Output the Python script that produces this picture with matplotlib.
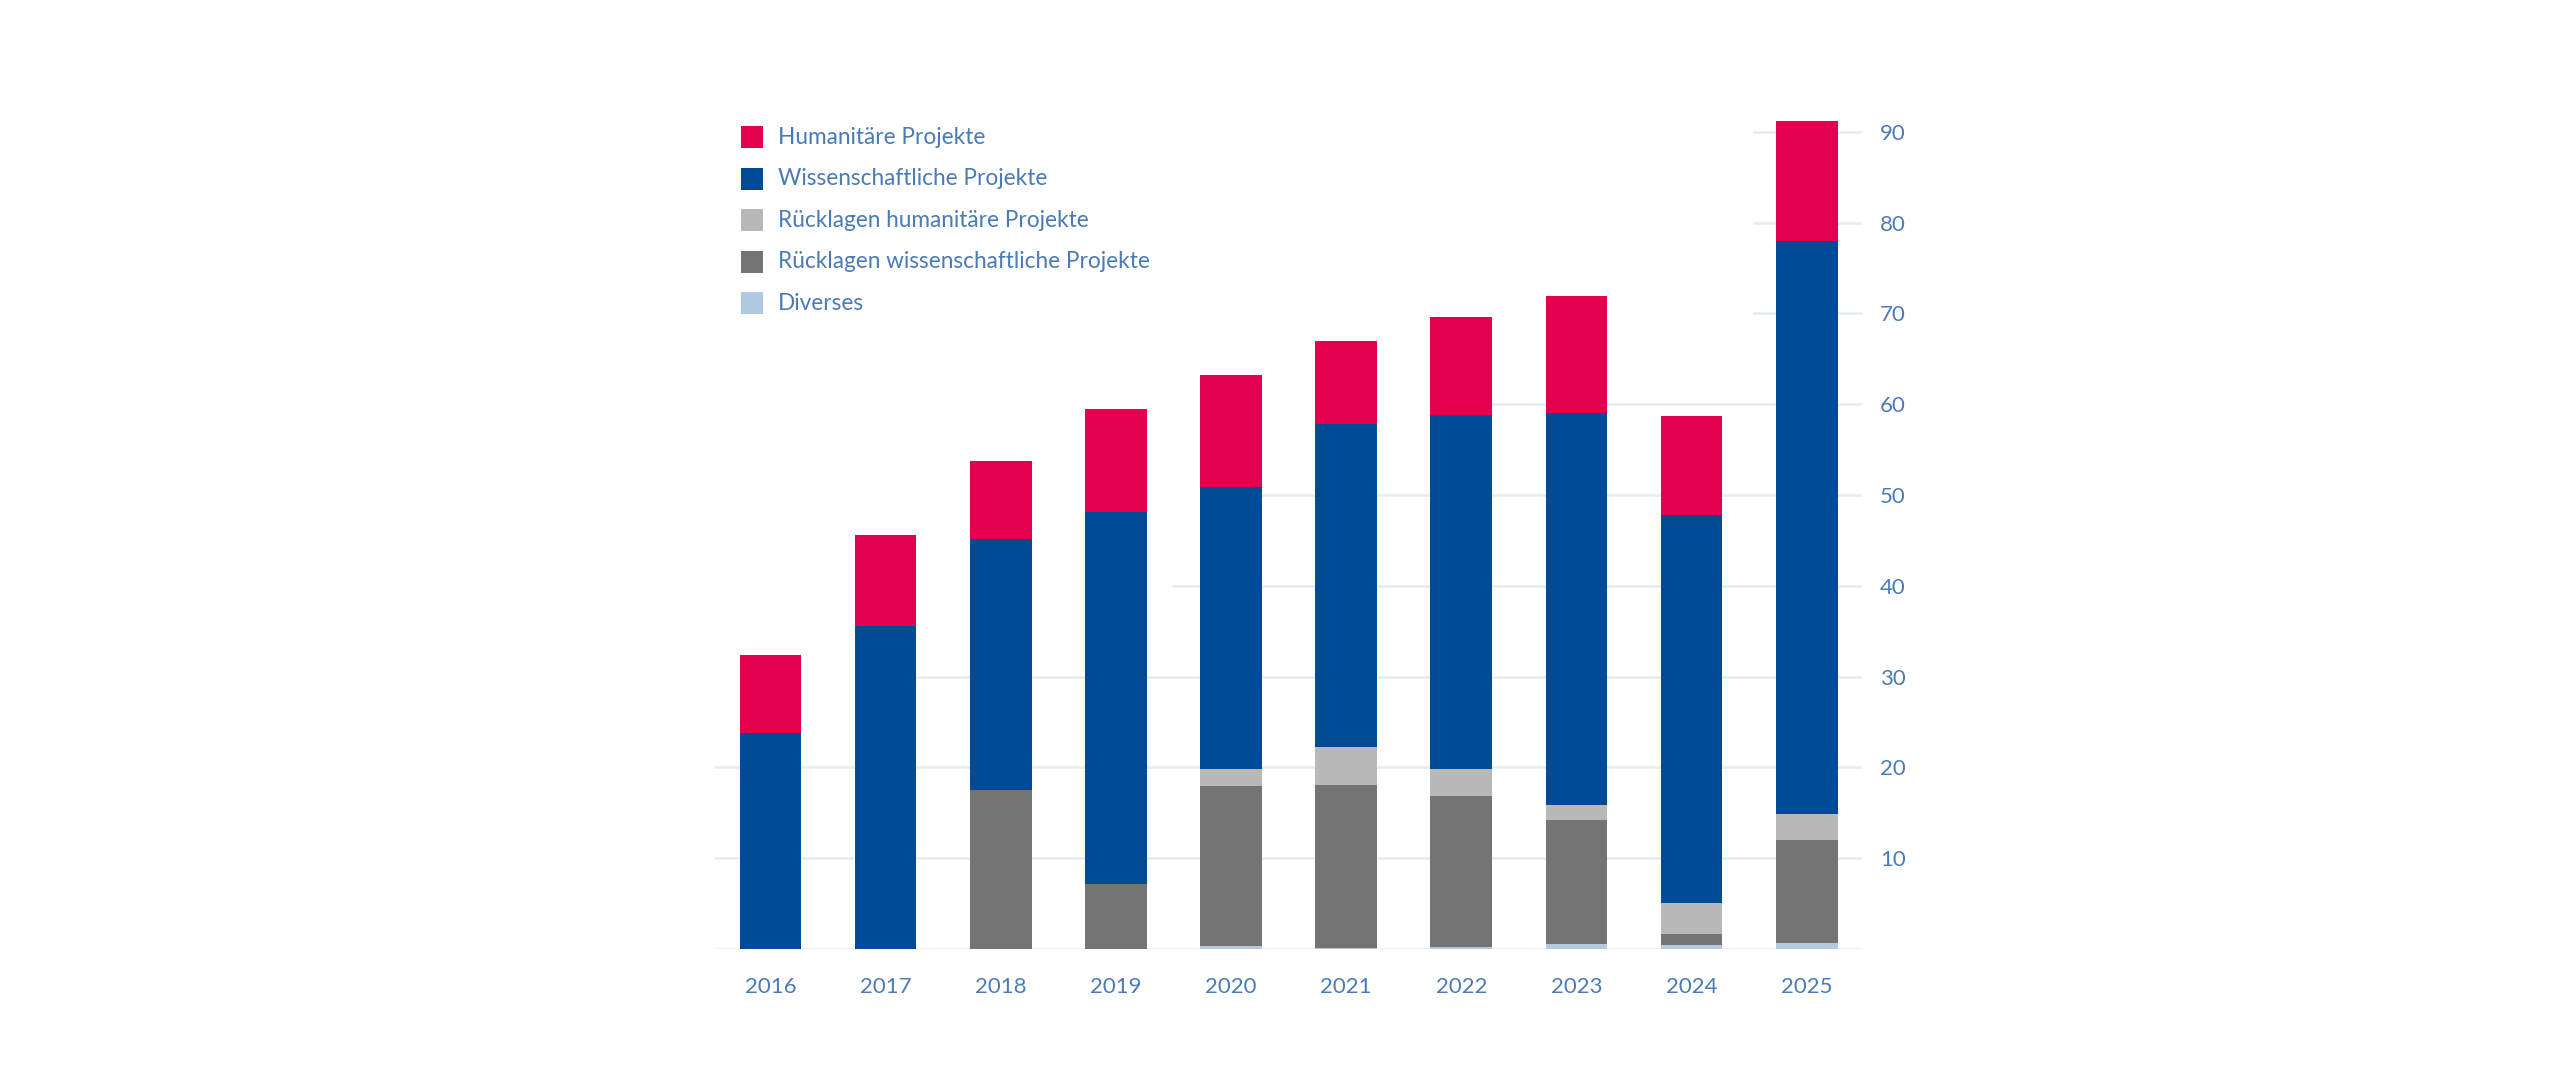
import numpy as np
import matplotlib
matplotlib.use("Agg")
import matplotlib.pyplot as plt
from matplotlib.patches import Rectangle

# data
years = ["2016", "2017", "2018", "2019", "2020", "2021", "2022", "2023", "2024", "2025"]
diverses = [0, 0, 0, 0, 0.35, 0.1, 0.25, 0.55, 0.4, 0.65]
ruecklagen_wiss = [0, 0, 17.5, 7.2, 17.55, 18.0, 16.55, 13.65, 1.25, 11.3]
ruecklagen_hum = [0, 0, 0, 0, 1.95, 4.1, 3.0, 1.7, 3.45, 2.95]
wiss_projekte = [23.8, 35.6, 27.7, 40.9, 31.05, 35.6, 39.0, 43.1, 42.7, 63.1]
hum_projekte = [8.55, 10.0, 8.5, 11.4, 12.3, 9.2, 10.8, 12.9, 10.9, 13.15]
y_ticks = [0, 10, 20, 30, 40, 50, 60, 70, 80, 90]

# stacking order bottom -> top
series = [
    ("Diverses", diverses, "#b1c9e1"),
    ("Rücklagen wissenschaftliche Projekte", ruecklagen_wiss, "#747474"),
    ("Rücklagen humanitäre Projekte", ruecklagen_hum, "#b8b8b8"),
    ("Wissenschaftliche Projekte", wiss_projekte, "#004b93"),
    ("Humanitäre Projekte", hum_projekte, "#e4004f"),
]

text_color = "#4a7bb7"
grid_color = "#e4ecf5"
plt.rcParams['font.family'] = ['Lato', 'DejaVu Sans']

W, H = 2560, 1080
fig = plt.figure(figsize=(W / 100, H / 100), dpi=100)
ymax = 95
ax_left, ax_right = 714 / W, 1862 / W
ax_bottom = (H - 949) / H
ax_height = ymax * 9.08 / H
ax = fig.add_axes([ax_left, ax_bottom, ax_right - ax_left, ax_height])

x = np.arange(len(years))
bottom = np.zeros(len(years))
for name, vals, color in series:
    vals = np.array(vals, dtype=float)
    ax.bar(x, vals, width=0.535, bottom=bottom, color=color, linewidth=0, zorder=3)
    bottom += vals

xlo, xhi = -0.49, 9.48
ax.set_xlim(xlo, xhi)
ax.set_ylim(0, ymax)

# grid lines: in the original the upper-left area (legend side) is left blank
grid_start = [xlo, xlo, xlo, 1.0, 3.49, 4.0, 6.0, 8.53, 8.53, 8.53]
for yv, xs in zip(y_ticks, grid_start):
    ax.hlines(yv, xs, xhi, color=grid_color, linewidth=1.8, zorder=1)

ax.set_yticks(y_ticks)
ax.set_yticklabels([""] + [str(t) for t in y_ticks[1:]])
ax.yaxis.tick_right()
ax.set_xticks(x)
ax.set_xticklabels(years)
ax.tick_params(axis='both', length=0, labelsize=16, labelcolor=text_color)
ax.tick_params(axis='y', pad=13)
ax.tick_params(axis='x', pad=20)
for s in ax.spines.values():
    s.set_visible(False)

# legend, top to bottom
row_y = [137, 178.7, 220.3, 262, 303.3]
sq = 22
for (name, vals, color), yc in zip(series[::-1], row_y):
    fig.add_artist(Rectangle((741 / W, (H - yc - sq / 2) / H), sq / W, sq / H,
                             transform=fig.transFigure, color=color, linewidth=0))
    fig.text(778 / W, (H - yc) / H, name, color=text_color, fontsize=16.3,
             va='center', ha='left')

fig.savefig("out.png", dpi=100, facecolor="white")
